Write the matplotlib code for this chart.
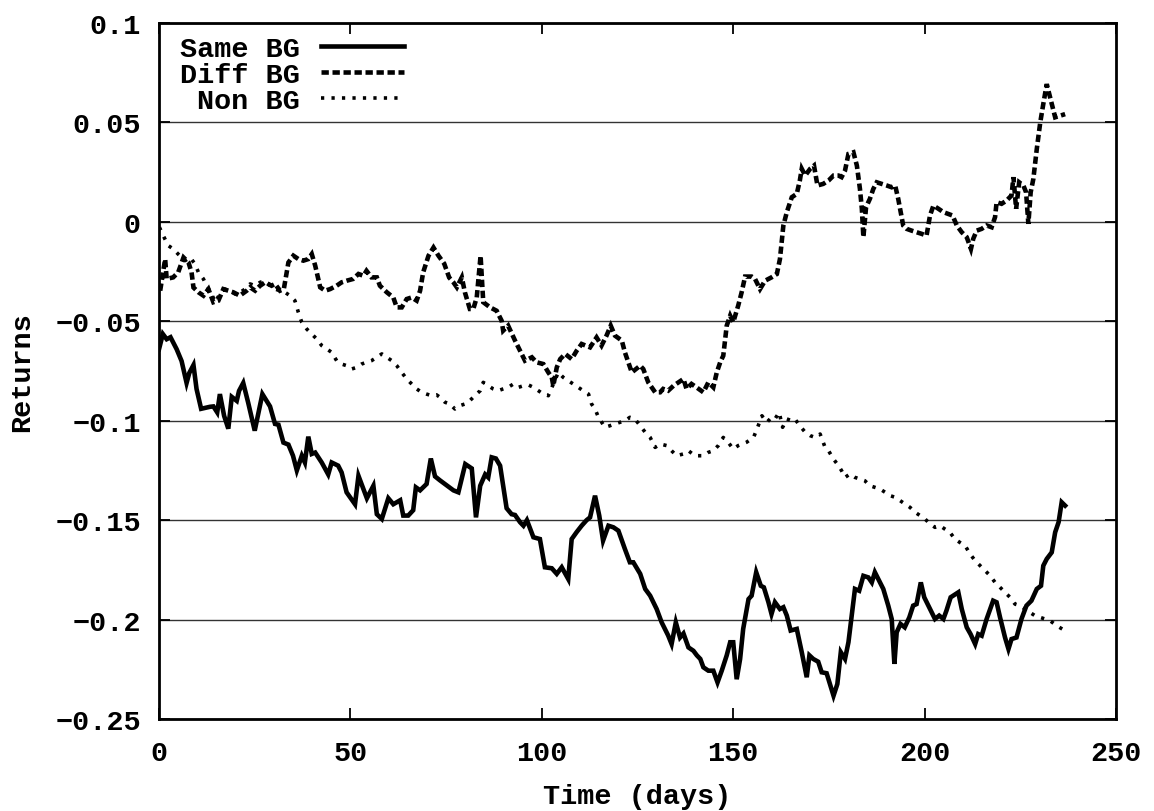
import matplotlib.pyplot as plt

# Same BG (solid line): day, return
same_days = [0.0, 1.0, 2.0, 3.0, 4.6, 5.9, 7.2, 7.9, 9.0, 9.8, 11.0, 13.3, 14.2, 15.2, 15.9, 17.0,
             18.1, 19.0, 20.3, 20.9, 22.0, 23.3, 25.0, 27.0, 29.0, 30.3, 31.2, 32.5, 33.8, 35.0,
             36.0, 37.3, 38.1, 39.0, 39.9, 40.8, 42.5, 44.2, 45.1, 46.8, 47.7, 49.0, 51.2, 52.1,
             54.3, 56.0, 56.9, 58.2, 59.9, 61.2, 63.0, 63.8, 65.1, 66.4, 67.1, 68.2, 69.9, 71.0,
             72.1, 73.4, 76.9, 78.2, 80.0, 81.7, 82.8, 83.9, 85.2, 86.0, 86.9, 88.0, 89.1, 90.8,
             92.1, 93.0, 94.3, 95.2, 96.1, 97.8, 99.5, 100.8, 102.6, 103.9, 105.2, 106.9, 107.8,
             109.1, 110.4, 111.7, 112.6, 113.9, 115.0, 116.0, 117.4, 118.7, 120.0, 121.7, 123.0,
             123.9, 125.7, 127.0, 128.3, 130.0, 131.3, 133.0, 133.9, 135.0, 136.1, 137.0, 138.3,
             139.6, 140.5, 141.4, 142.2, 143.5, 144.8, 145.9, 147.0, 148.3, 149.2, 150.0, 150.9,
             151.8, 152.6, 154.0, 154.8, 156.0, 157.2, 158.0, 159.2, 160.0, 160.9, 162.2, 163.1,
             164.0, 165.0, 166.6, 167.9, 169.2, 169.9, 170.9, 172.2, 173.1, 174.4, 176.2, 177.2,
             178.1, 179.2, 180.1, 181.8, 182.9, 184.0, 185.3, 186.2, 187.0, 187.9, 189.2, 190.5,
             191.4, 192.1, 192.7, 193.7, 194.8, 196.0, 197.0, 197.9, 199.0, 199.9, 201.4, 202.7,
             203.8, 204.9, 205.7, 206.8, 208.8, 209.7, 211.0, 212.0, 213.2, 214.0, 214.9, 216.2,
             217.9, 218.8, 219.7, 221.0, 221.9, 222.7, 224.0, 225.3, 226.6, 227.9, 229.3, 230.4,
             231.0, 231.9, 233.2, 234.1, 235.0, 235.8, 236.7]
same_vals = [-0.064, -0.0564, -0.059, -0.058, -0.064, -0.070, -0.081, -0.076, -0.072, -0.084,
             -0.094, -0.093, -0.0928, -0.0958, -0.0866, -0.0975, -0.104, -0.088, -0.090, -0.085,
             -0.081, -0.091, -0.105, -0.0866, -0.0928, -0.1016, -0.102, -0.111, -0.112, -0.1176,
             -0.125, -0.1176, -0.121, -0.108, -0.1167, -0.116, -0.121, -0.127, -0.121, -0.1226,
             -0.126, -0.136, -0.142, -0.1277, -0.139, -0.1327, -0.147, -0.1494, -0.139, -0.142,
             -0.140, -0.1477, -0.1477, -0.145, -0.1335, -0.135, -0.1318, -0.119, -0.128, -0.130,
             -0.135, -0.136, -0.1218, -0.124, -0.1486, -0.1327, -0.127, -0.1285, -0.1184, -0.119,
             -0.1226, -0.144, -0.147, -0.1474, -0.151, -0.1528, -0.150, -0.1586, -0.1595, -0.1737,
             -0.1742, -0.177, -0.1737, -0.1796, -0.1595, -0.156, -0.1528, -0.150, -0.1486, -0.1377,
             -0.1477, -0.1603, -0.1528, -0.1536, -0.1553, -0.1645, -0.1712, -0.1712, -0.177,
             -0.1846, -0.188, -0.1947, -0.2014, -0.208, -0.2123, -0.2014, -0.209, -0.207, -0.214,
             -0.2157, -0.218, -0.2198, -0.224, -0.2257, -0.2257, -0.2316, -0.2257, -0.218, -0.2114,
             -0.2114, -0.230, -0.2198, -0.2047, -0.1897, -0.188, -0.1762, -0.183, -0.1838, -0.1913,
             -0.1972, -0.1913, -0.1947, -0.1938, -0.198, -0.2055, -0.2047, -0.2164, -0.229, -0.218,
             -0.2198, -0.2212, -0.2265, -0.227, -0.2383, -0.2324, -0.2164, -0.2198, -0.2114,
             -0.1846, -0.1855, -0.178, -0.1788, -0.1813, -0.1762, -0.1796, -0.1846, -0.193,
             -0.1997, -0.2223, -0.2064, -0.2022, -0.2039, -0.1989, -0.193, -0.1922, -0.1813,
             -0.1888, -0.1947, -0.1997, -0.198, -0.1997, -0.1955, -0.1888, -0.1863, -0.1947,
             -0.2039, -0.2073, -0.2123, -0.2073, -0.2081, -0.1997, -0.1905, -0.1913, -0.1989,
             -0.209, -0.2148, -0.2098, -0.209, -0.1997, -0.193, -0.1905, -0.1846, -0.183, -0.1729,
             -0.1695, -0.1662, -0.1561, -0.151, -0.141, -0.1427]

# Diff BG (dashed line)
diff_days = [0.3, 1.6, 2.0, 3.7, 5.0, 6.4, 7.7, 8.5, 9.0, 10.3, 11.6, 12.9, 14.2, 15.5, 16.8, 18.1,
             19.4, 21.1, 22.9, 23.8, 25.1, 26.4, 27.7, 29.4, 30.3, 31.6, 32.6, 33.8, 35.1, 36.4,
             37.7, 39.0, 39.9, 40.8, 42.1, 43.4, 44.7, 46.4, 47.7, 49.0, 50.7, 52.1, 53.4, 54.2,
             55.5, 56.9, 57.7, 59.5, 61.2, 62.1, 63.4, 64.7, 66.0, 67.3, 68.2, 69.0, 70.4, 71.7,
             73.0, 74.5, 75.8, 76.9, 77.8, 79.1, 79.9, 81.2, 82.1, 83.0, 84.0, 84.7, 86.5, 88.2,
             89.5, 89.9, 91.2, 93.0, 94.3, 95.6, 97.4, 98.6, 100.4, 101.7, 102.6, 103.0, 103.9,
             104.8, 106.1, 107.8, 109.1, 110.4, 112.6, 114.3, 115.6, 116.9, 118.0, 119.1, 120.9,
             121.7, 122.6, 123.5, 125.7, 126.5, 127.8, 129.6, 130.9, 131.7, 133.0, 134.4, 135.7,
             137.0, 137.8, 139.1, 140.4, 142.2, 143.5, 144.8, 145.7, 146.6, 147.4, 148.3, 149.2,
             150.0, 151.3, 152.2, 153.1, 154.8, 155.7, 157.0, 158.3, 160.0, 161.4, 162.2, 163.1,
             164.0, 165.3, 166.6, 167.4, 167.9, 168.8, 170.1, 171.1, 172.0, 173.5, 174.9, 176.2,
             177.5, 178.3, 179.2, 180.1, 181.4, 182.3, 183.1, 183.6, 184.0, 184.7, 185.7, 186.6,
             187.5, 188.8, 190.1, 191.4, 192.3, 193.1, 194.4, 195.3, 196.6, 197.9, 199.2, 200.5,
             201.4, 202.3, 203.6, 204.9, 206.2, 207.3, 208.4, 209.7, 211.0, 212.1, 212.7, 213.6,
             214.9, 216.2, 217.5, 218.4, 218.8, 220.1, 221.4, 222.7, 223.2, 223.9, 224.7, 225.8,
             226.5, 227.1, 227.7, 228.4, 229.3, 230.2, 231.0, 231.9, 232.9, 234.1, 235.4, 236.7]
diff_vals = [-0.0346, -0.0187, -0.0287, -0.0279, -0.0254, -0.0179, -0.0204, -0.0254, -0.033,
             -0.0354, -0.0371, -0.0338, -0.0404, -0.0396, -0.0338, -0.0346, -0.0354, -0.0371,
             -0.0346, -0.0329, -0.0346, -0.0321, -0.0304, -0.0321, -0.0312, -0.0346, -0.0338,
             -0.0204, -0.0170, -0.0187, -0.0195, -0.0187, -0.0162, -0.022, -0.0329, -0.0346,
             -0.0338, -0.0321, -0.0304, -0.0296, -0.0287, -0.0262, -0.0271, -0.0246, -0.0279,
             -0.0279, -0.0321, -0.0354, -0.0380, -0.043, -0.043, -0.0388, -0.038, -0.0396,
             -0.0346, -0.0254, -0.017, -0.0129, -0.017, -0.021, -0.028, -0.0304, -0.0329,
             -0.0279, -0.0354, -0.0438, -0.0438, -0.0380, -0.017, -0.0404, -0.043, -0.0447,
             -0.0497, -0.0547, -0.0522, -0.0597, -0.0648, -0.0698, -0.0681, -0.0706, -0.0715,
             -0.0757, -0.0782, -0.0824, -0.0732, -0.069, -0.0664, -0.069, -0.0648, -0.0614,
             -0.0631, -0.0581, -0.0622, -0.0572, -0.0522, -0.0572, -0.0597, -0.0656, -0.0706,
             -0.0757, -0.0723, -0.074, -0.0807, -0.0857, -0.0857, -0.084, -0.0849, -0.0824,
             -0.0807, -0.079, -0.084, -0.0815, -0.0832, -0.0857, -0.0807, -0.0832, -0.0757,
             -0.0706, -0.0673, -0.0522, -0.0472, -0.0505, -0.0421, -0.0354, -0.0275, -0.0275,
             -0.0287, -0.0338, -0.0296, -0.0279, -0.0262, -0.0187, -0.0018, 0.0049, 0.0124,
             0.0141, 0.0208, 0.0267, 0.0233, 0.0267, 0.0283, 0.0183, 0.0191, 0.0208, 0.0233,
             0.0233, 0.0225, 0.0258, 0.0342, 0.035, 0.0283, 0.0166, 0.0066, -0.0077, 0.0074,
             0.0116, 0.0166, 0.0199, 0.0191, 0.0183, 0.0174, 0.0183, 0.0116, -0.0018, -0.0035,
             -0.0044, -0.0052, -0.006, -0.0069, 0.0032, 0.0082, 0.0066, 0.0049, 0.004, 0.0032,
             -0.0018, -0.0052, -0.0077, -0.0136, -0.0085, -0.0044, -0.0035, -0.0018, -0.0027,
             0.0024, 0.0099, 0.0091, 0.0107, 0.0133, 0.0225, 0.0066, 0.0199, 0.0183, 0.0149,
             -0.001, 0.0149, 0.0216, 0.0367, 0.050, 0.0593, 0.0693, 0.0618, 0.0526, 0.0534, 0.0542]

# Non BG (dotted line)
non_days = [0.1, 1.1, 2.4, 3.7, 5.0, 6.8, 8.1, 9.4, 10.3, 11.6, 12.4, 13.8, 14.6, 15.9, 17.2, 18.5,
            19.9, 21.2, 22.5, 23.8, 25.1, 26.4, 27.7, 29.0, 30.3, 31.6, 32.9, 34.2, 35.5, 36.4,
            37.3, 38.6, 39.9, 41.2, 42.5, 43.8, 45.1, 46.4, 47.7, 49.0, 50.3, 51.6, 52.9, 54.2,
            55.5, 56.9, 58.2, 59.5, 60.8, 62.1, 63.4, 64.7, 66.0, 67.3, 68.6, 69.9, 71.2, 72.5,
            73.4, 74.7, 76.0, 77.3, 78.6, 79.9, 81.2, 82.5, 83.9, 84.7, 86.0, 87.3, 88.6, 89.9,
            91.2, 92.6, 93.9, 95.2, 96.5, 97.8, 99.1, 100.4, 101.7, 103.0, 104.3, 105.6, 106.9,
            108.2, 109.5, 110.8, 112.2, 113.0, 113.9, 114.8, 116.5, 117.8, 119.1, 120.4, 121.7,
            123.0, 124.3, 125.7, 127.0, 128.3, 129.6, 130.9, 132.6, 133.9, 135.2, 137.0, 138.3,
            140.0, 142.2, 143.5, 144.8, 146.1, 147.4, 148.7, 150.0, 151.3, 153.5, 155.3, 156.2,
            157.5, 158.8, 160.0, 160.9, 162.0, 162.9, 164.0, 165.3, 166.1, 167.4, 168.8, 170.1,
            171.4, 172.7, 174.0, 174.9, 176.2, 177.5, 178.3, 179.2, 180.5, 181.8, 183.1, 184.4,
            185.7, 187.0, 188.3, 189.7, 191.0, 192.3, 193.6, 194.9, 196.2, 197.5, 198.8, 200.1,
            201.4, 202.7, 204.0, 205.3, 206.6, 207.9, 209.2, 210.6, 211.9, 213.2, 214.5, 215.8,
            217.1, 218.4, 219.7, 221.0, 222.3, 223.6, 224.9, 226.2, 227.5, 228.8, 230.2, 231.5,
            232.8, 234.5, 236.7]
non_vals = [-0.0027, -0.0069, -0.0119, -0.0136, -0.0162, -0.0195, -0.0178, -0.0212, -0.0254,
            -0.0287, -0.0321, -0.0363, -0.0404, -0.0363, -0.0338, -0.0346, -0.0363, -0.0354,
            -0.0338, -0.0312, -0.0321, -0.0304, -0.0296, -0.0321, -0.0338, -0.0346, -0.0354,
            -0.0371, -0.0396, -0.0455, -0.0505, -0.0539, -0.0564, -0.0589, -0.0622, -0.0639,
            -0.0656, -0.0698, -0.0715, -0.0723, -0.074, -0.0732, -0.0715, -0.0706, -0.0698,
            -0.0681, -0.0664, -0.0681, -0.0698, -0.0723, -0.0757, -0.079, -0.0815, -0.084,
            -0.0857, -0.0866, -0.0874, -0.087, -0.0882, -0.0907, -0.0916, -0.0941, -0.0924,
            -0.0916, -0.0899, -0.0874, -0.0849, -0.0807, -0.0824, -0.084, -0.0849, -0.084,
            -0.0832, -0.0815, -0.0832, -0.0824, -0.082, -0.0832, -0.0849, -0.0866, -0.0874,
            -0.0815, -0.0757, -0.0782, -0.0799, -0.0815, -0.0832, -0.0849, -0.0866, -0.0916,
            -0.0941, -0.0983, -0.1033, -0.1025, -0.1016, -0.1008, -0.1, -0.0983, -0.0991,
            -0.1025, -0.1058, -0.1084, -0.1134, -0.1117, -0.1125, -0.1151, -0.1176, -0.1167,
            -0.1151, -0.1176, -0.1176, -0.1159, -0.1151, -0.1125, -0.1084, -0.1109, -0.1142,
            -0.1125, -0.1108, -0.1084, -0.1042, -0.0975, -0.1008, -0.0983, -0.0991, -0.0958,
            -0.1033, -0.0991, -0.1, -0.0991, -0.1025, -0.1058, -0.1075, -0.1084, -0.1067,
            -0.1134, -0.1151, -0.1193, -0.1226, -0.1251, -0.1285, -0.1268, -0.1285, -0.1293,
            -0.1302, -0.1327, -0.1335, -0.1343, -0.136, -0.1377, -0.1385, -0.1402, -0.1419,
            -0.1436, -0.146, -0.1477, -0.1494, -0.1519, -0.1536, -0.1528, -0.1545, -0.1561,
            -0.1595, -0.1612, -0.1629, -0.1671, -0.1704, -0.1729, -0.1754, -0.1779, -0.1813,
            -0.1838, -0.1863, -0.1888, -0.1922, -0.193, -0.1947, -0.1964, -0.198, -0.1989,
            -0.1997, -0.2006, -0.2031, -0.2056]

x_ticks = [0, 50, 100, 150, 200, 250]
y_ticks = [0.1, 0.05, 0, -0.05, -0.1, -0.15, -0.2, -0.25]
y_tick_labels = ["0.1", "0.05", "0", "\u22120.05", "\u22120.1", "\u22120.15", "\u22120.2", "\u22120.25"]

plt.rcParams['font.family'] = ['Liberation Mono', 'DejaVu Sans Mono']
plt.rcParams['font.weight'] = 'bold'
plt.rcParams['font.size'] = 20.5

fig = plt.figure(figsize=(11.54, 8.12), dpi=100)
ax = fig.add_axes([0.1378, 0.1133, 0.8293, 0.8571])

ax.plot(same_days, same_vals, color='black', linewidth=3.3, solid_joinstyle='miter',
        label='Same BG')
ax.plot(diff_days, diff_vals, color='black', linewidth=3.3, linestyle=(0, (1.6, 0.8)),
        dash_joinstyle='miter', label='Diff BG')
ax.plot(non_days, non_vals, color='black', linewidth=2.6, linestyle=(0, (0.9, 2.0)),
        label='Non BG')

ax.set_xlim(0, 250)
ax.set_ylim(-0.25, 0.1)
ax.set_xticks(x_ticks)
ax.set_yticks(y_ticks)
ax.set_yticklabels(y_tick_labels)

# gnuplot style: horizontal grid only, ticks inward and mirrored
ax.yaxis.grid(True, color='#333333', linewidth=1.0)
ax.set_axisbelow(True)
ax.tick_params(direction='in', top=True, right=True, length=8, width=1.3)
ax.tick_params(axis='x', pad=15)
ax.tick_params(axis='y', pad=13)
for s in ax.spines.values():
    s.set_linewidth(2.0)

ax.set_xlabel('Time (days)', fontweight='bold')
ax.xaxis.set_label_coords(0.5, -0.092)
ax.set_ylabel('Returns', fontweight='bold', va='center', ha='center')
ax.yaxis.set_label_coords(-0.143, 0.5)

ax.legend(loc='upper left', bbox_to_anchor=(0.022, 0.981), frameon=False, markerfirst=False,
          handlelength=2.9, handletextpad=0.75, labelspacing=0.0, borderpad=0,
          borderaxespad=0)

fig.savefig('out.png', dpi=100)
